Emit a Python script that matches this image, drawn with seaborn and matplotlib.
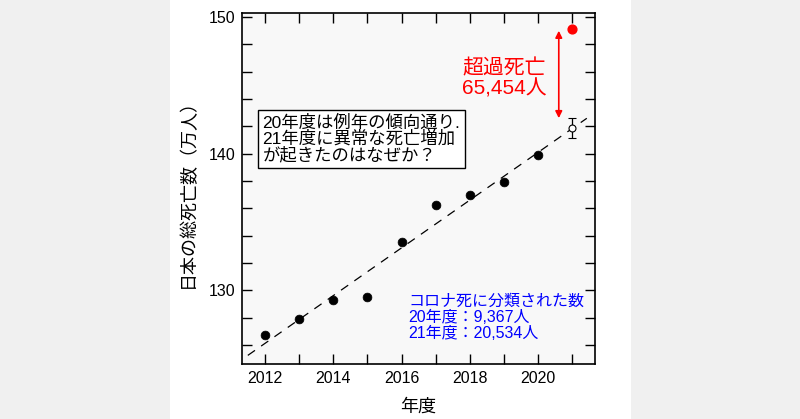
import matplotlib
matplotlib.use("Agg")
import matplotlib.pyplot as plt
from matplotlib.patches import Rectangle
from matplotlib.ticker import MultipleLocator
import seaborn as sns
import pandas as pd

# data
years = [2012, 2013, 2014, 2015, 2016, 2017, 2018, 2019, 2020]
deaths = [126.75, 127.9, 129.3, 129.5, 133.5, 136.26, 137.0, 137.9, 139.9]
expected_year = 2021
expected_deaths = 141.85
expected_err = 0.73
actual_2021 = 149.1
trend_x = [2011.5, 2021.42]
trend_y = [125.23, 142.59]
arrow_x = 2020.6
box_text = "20年度は例年の傾向通り.\n21年度に異常な死亡増加\nが起きたのはなぜか？"
excess_text = "超過死亡\n65,454人"
covid_text = "コロナ死に分類された数\n20年度：9,367人\n21年度：20,534人"

sns.set_style("ticks", {'axes.edgecolor': 'black', 'text.color': 'black',
                        'xtick.color': 'black', 'ytick.color': 'black',
                        'axes.labelcolor': 'black'})
plt.rcParams['font.family'] = ['Liberation Sans', 'Noto Sans CJK JP', 'DejaVu Sans']

df = pd.DataFrame({'year': years, 'deaths': deaths})
trend = pd.DataFrame({'year': trend_x, 'deaths': trend_y})

fig = plt.figure(figsize=(8, 4.19), dpi=100, facecolor='#f0f0f0')
fig.patches.append(Rectangle((170 / 800, 0), 461 / 800, 1, transform=fig.transFigure,
                             facecolor='white', edgecolor='none', zorder=-5))
ax = fig.add_axes([242 / 800, 1 - 364 / 419, 353 / 800, 351 / 419])
ax.set_facecolor('#f8f8f8')

sns.lineplot(data=trend, x='year', y='deaths', ax=ax, color='black', lw=0.9,
             linestyle=(0, (7, 6)), zorder=2)
sns.scatterplot(data=df, x='year', y='deaths', ax=ax, color='black', s=40,
                edgecolor='black', zorder=3)
ax.errorbar([expected_year], [expected_deaths], yerr=[expected_err], fmt='o',
            mfc='white', mec='black', ms=5, mew=0.8, ecolor='black',
            elinewidth=0.9, capsize=2.8, capthick=0.9, zorder=4)
ax.scatter([expected_year], [actual_2021], color='red', s=40, zorder=4)
ax.annotate('', xy=(arrow_x, actual_2021 - 0.1), xytext=(arrow_x, expected_deaths + 0.75),
            arrowprops=dict(arrowstyle='<|-|>', color='red', lw=1.2,
                            mutation_scale=10, shrinkA=0, shrinkB=0))

ax.text(2017.78, 146.95, excess_text, color='red', fontsize=15, va='top',
        ha='left', linespacing=1.05)
ax.text(2011.93, 142.9, box_text, fontsize=12.5, va='top', ha='left', linespacing=1.0,
        bbox=dict(boxstyle='square,pad=0.25', facecolor='white', edgecolor='black', lw=1))
ax.text(2016.2, 129.75, covid_text, color='blue', fontsize=11.5, va='top',
        ha='left', linespacing=1.1)

ax.set_xlim(2011.33, 2021.66)
ax.set_ylim(124.6, 150.3)
ax.xaxis.set_major_locator(MultipleLocator(2))
ax.xaxis.set_minor_locator(MultipleLocator(1))
ax.yaxis.set_major_locator(MultipleLocator(10))
ax.yaxis.set_minor_locator(MultipleLocator(2))
ax.tick_params(which='both', direction='in', top=True, right=True, width=1, labelsize=11.5)
ax.tick_params(which='major', length=7, pad=5)
ax.tick_params(which='minor', length=7)
for s in ax.spines.values():
    s.set_linewidth(1.2)
ax.set_xlabel('年度', fontsize=13, labelpad=9)
ax.set_ylabel('日本の総死亡数（万人）', fontsize=13, labelpad=8)

fig.savefig('out.png', dpi=100, facecolor=fig.get_facecolor())
